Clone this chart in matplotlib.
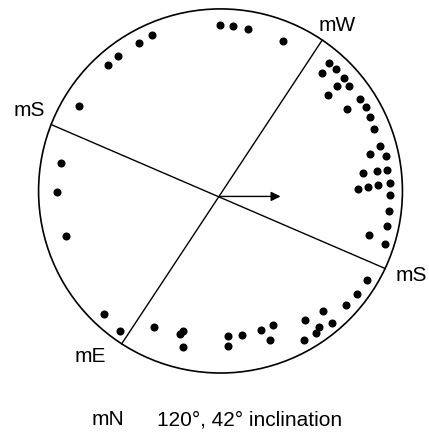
import numpy as np
import matplotlib
matplotlib.use("Agg")
import matplotlib.pyplot as plt
from matplotlib.patches import Circle

# pole positions, in units where the stereonet radius is 100
dot_x = [-37.7, -44.8, -56.3, -61.8, -77.8, -87.7, -89.9, -84.9, -64.0, -55.3,
         -36.6, -20.6, -22.3, -20.6, 4.1, 4.1, 11.8, 22.2, 28.8, 27.2,
         46.4, 45.9, 52.4, 54.1, 56.3, 61.2, 68.9, 75.0, 80.5, 90.4,
         81.6, 91.5, 92.6, 93.1, 93.1, 86.5, 81.0, 75.5, 78.3, 86.0,
         91.5, 82.1, 90.9, 87.6, 84.3, 82.1, 79.9, 69.5, 76.6, 59.0,
         70.6, 64.0, 67.8, 55.7, 63.4, 59.6, 34.3, 15.1, 6.8, -0.3]
dot_y = [85.7, 81.3, 74.2, 69.2, 46.7, 15.4, -0.6, -24.7, -67.6, -76.9,
         -74.7, -76.9, -78.6, -85.7, -79.7, -85.2, -79.1, -76.4, -73.6, -81.9,
         -70.9, -81.9, -78.0, -74.7, -65.9, -72.5, -62.6, -56.6, -48.9, -29.1,
         -24.2, -19.2, -11.0, -2.2, 4.4, 3.3, 2.2, 1.1, 9.9, 11.0,
         11.5, 20.3, 19.2, 24.7, 34.1, 40.7, 46.2, 45.1, 50.5, 52.7,
         57.7, 57.7, 62.1, 64.8, 67.0, 70.3, 82.4, 89.0, 90.7, 91.2]

# ends of the two reference lines (degrees round the circle)
ws_line = [56.0, 237.1]      # mW -> mE
ss_line = [158.6, -25.2]     # mS -> mS

axis_labels = ["mW", "mS", "mS", "mE"]
label_x = [64.0, -105.2, 104.7, -71.7]
label_y = [90.7, 44.0, -46.2, -91.2]

arrow_start = (0.0, -3.0)
arrow_end = (33.0, -3.0)

caption_left = "mN"
caption_right = "120°, 42° inclination"

plt.rcParams['font.family'] = ['Liberation Sans', 'DejaVu Sans']

fig = plt.figure(figsize=(4.29, 4.32), dpi=100)
ax = fig.add_axes([0, 0, 1, 1])
ax.set_xlim(-121.2, 114.6)
ax.set_ylim(-132.4, 104.9)
ax.axis("off")

ax.add_patch(Circle((0, 0), 100, fill=False, lw=1.2, color="black"))

for ang in (ws_line, ss_line):
    a = np.radians(ang)
    ax.plot(100 * np.cos(a), 100 * np.sin(a), color="black", lw=1.0)

ax.plot(dot_x, dot_y, 'o', color="black", ms=5.8, mec="none")

ax.annotate("", xy=arrow_end, xytext=arrow_start,
            arrowprops=dict(arrowstyle="-|>", color="black", lw=1.0,
                            mutation_scale=14, shrinkA=0, shrinkB=0))

for t, x, y in zip(axis_labels, label_x, label_y):
    ax.text(x, y, t, fontsize=15, ha="center", va="center")

ax.text(-61.8, -125.8, caption_left, fontsize=15, ha="center", va="center")
ax.text(15.7, -125.8, caption_right, fontsize=15, ha="center", va="center")

fig.savefig("out.png", dpi=100)
